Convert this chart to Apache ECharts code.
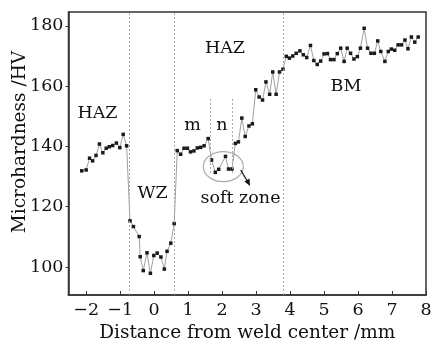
<!DOCTYPE html>
<html><head><meta charset="utf-8">
<script src="https://cdn.jsdelivr.net/npm/echarts@6/dist/echarts.min.js"></script>
<style>html,body{margin:0;padding:0;background:#fff}#c{width:433px;height:341px}</style>
</head><body><div id="c"></div>
<script>
const distances = [-2.13,-2.00,-1.90,-1.81,-1.71,-1.61,-1.51,-1.41,-1.32,-1.22,-1.11,-1.01,-0.91,-0.81,-0.71,-0.61,-0.44,-0.41,-0.32,-0.21,-0.11,-0.01,0.09,0.20,0.30,0.38,0.49,0.59,0.68,0.78,0.88,0.98,1.07,1.17,1.27,1.37,1.47,1.59,1.69,1.80,1.90,2.10,2.19,2.29,2.39,2.48,2.58,2.68,2.79,2.89,2.99,3.09,3.19,3.29,3.40,3.49,3.59,3.69,3.79,3.89,3.98,4.08,4.18,4.29,4.39,4.49,4.60,4.70,4.80,4.90,5.00,5.10,5.19,5.29,5.39,5.49,5.59,5.68,5.78,5.88,5.98,6.07,6.18,6.28,6.38,6.48,6.58,6.67,6.79,6.89,6.98,7.08,7.18,7.28,7.38,7.47,7.57,7.67,7.77];
const hardness = [131.9,132.2,136.1,135.2,137.0,140.8,137.9,139.4,139.9,140.3,141.1,139.6,144.0,140.2,115.3,113.4,110.1,103.4,98.8,104.7,97.9,103.8,104.6,103.3,99.3,105.2,107.9,114.4,138.6,137.4,139.4,139.4,138.2,138.5,139.5,139.7,140.2,142.6,135.5,131.4,132.4,136.7,132.5,132.5,141.0,141.5,149.4,143.3,146.8,147.5,158.8,156.4,155.4,161.4,157.3,164.7,157.3,164.7,165.6,169.9,169.3,170.0,170.9,171.7,170.4,169.5,173.5,168.5,167.2,168.3,170.7,170.8,168.8,168.8,170.8,172.6,168.2,172.6,170.9,169.0,169.8,172.6,179.2,172.6,170.9,170.9,175.0,171.5,168.2,171.5,172.3,171.9,173.7,173.7,175.3,172.4,176.3,174.6,176.3];
const xTicks = [-2,-1,0,1,2,3,4,5,6,7,8];
const yTicks = [100,120,140,160,180];
const zoneBounds = [-0.72, 0.60, 3.80];
const subZoneBounds = [1.66, 2.31];
const subZoneRange = [131.2, 156.1];

const FONT = 'DejaVu Serif';
const n = Math.min(distances.length, hardness.length);
const pts = [];
for (let i = 0; i < n; i++) pts.push([distances[i], hardness[i]]);

const ml = zoneBounds.map(v => ({xAxis: v}));
subZoneBounds.forEach(v => ml.push([{coord: [v, subZoneRange[0]]}, {coord: [v, subZoneRange[1]]}]));

const chart = echarts.init(document.getElementById('c'));
chart.setOption({
  animation: false,
  grid: {left: 68.5, right: 7, top: 12, bottom: 46, show: true, borderColor: '#333', borderWidth: 1.5,
    containLabel: false, outerBoundsMode: 'none'},
  xAxis: {
    type: 'value', min: -2.52, max: 8.0,
    axisLine: {show: true, onZero: false, lineStyle: {color: '#333', width: 1.5}},
    axisTick: {show: true, inside: true, length: 4, customValues: xTicks, lineStyle: {color: '#333'}},
    axisLabel: {customValues: xTicks, margin: 6, fontFamily: FONT, fontSize: 17.5, color: '#111',
      formatter: v => String(v).replace('-', '\u2212')},
    splitLine: {show: false},
    name: 'Distance from weld center /mm', nameLocation: 'middle', nameGap: 26,
    nameTextStyle: {fontFamily: FONT, fontSize: 18.5, color: '#111'}
  },
  yAxis: {
    type: 'value', min: 90.7, max: 184.6,
    axisLine: {show: true, onZero: false, lineStyle: {color: '#333', width: 1.5}},
    axisTick: {show: true, inside: false, length: 3, customValues: yTicks, lineStyle: {color: '#333'}},
    axisLabel: {customValues: yTicks, margin: 5, fontFamily: FONT, fontSize: 17.5, color: '#111'},
    splitLine: {show: false}
  },
  series: [{
    type: 'line', data: pts,
    symbol: 'rect', symbolSize: 3.5,
    lineStyle: {color: '#a0a0a0', width: 1},
    itemStyle: {color: '#1a1a1a'},
    markLine: {silent: true, symbol: 'none', label: {show: false},
      lineStyle: {color: '#aaa', type: [2, 2], width: 1}, data: ml}
  }],
  graphic: [
    {type: 'text', x: 20, y: 142, rotation: Math.PI / 2, style: {text: 'Microhardness /HV', font: '18.5px "DejaVu Serif"', fill: '#111', align: 'center', verticalAlign: 'middle'}},
    {type: 'text', x: 97.5, y: 113, style: {text: 'HAZ', font: '17.5px "DejaVu Serif"', fill: '#111', align: 'center', verticalAlign: 'middle'}},
    {type: 'text', x: 152.5, y: 193, style: {text: 'WZ', font: '17.5px "DejaVu Serif"', fill: '#111', align: 'center', verticalAlign: 'middle'}},
    {type: 'text', x: 192.5, y: 125, style: {text: 'm', font: '17.5px "DejaVu Serif"', fill: '#111', align: 'center', verticalAlign: 'middle'}},
    {type: 'text', x: 222, y: 125, style: {text: 'n', font: '17.5px "DejaVu Serif"', fill: '#111', align: 'center', verticalAlign: 'middle'}},
    {type: 'text', x: 225, y: 48, style: {text: 'HAZ', font: '17.5px "DejaVu Serif"', fill: '#111', align: 'center', verticalAlign: 'middle'}},
    {type: 'text', x: 346, y: 86, style: {text: 'BM', font: '17.5px "DejaVu Serif"', fill: '#111', align: 'center', verticalAlign: 'middle'}},
    {type: 'text', x: 240.5, y: 198, style: {text: 'soft zone', font: '17.5px "DejaVu Serif"', fill: '#111', align: 'center', verticalAlign: 'middle'}},
    {type: 'ellipse', shape: {cx: 223.3, cy: 166.7, rx: 20, ry: 15}, style: {fill: 'none', stroke: '#aaa', lineWidth: 1.2}},
    {type: 'line', shape: {x1: 240.7, y1: 170, x2: 247.5, y2: 181.5}, style: {stroke: '#111', lineWidth: 1.2}},
    {type: 'polygon', shape: {points: [[250, 186], [244.5, 181.5], [249.5, 178.5]]}, style: {fill: '#111'}}
  ]
});
</script></body></html>
